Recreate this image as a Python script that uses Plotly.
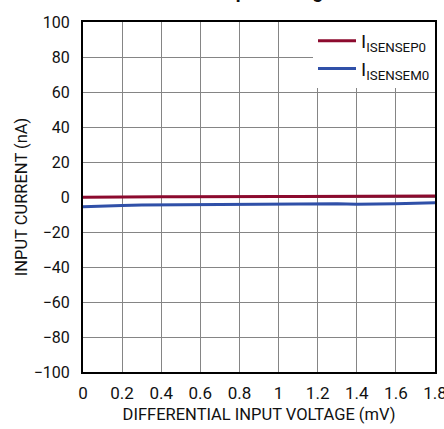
import plotly.graph_objects as go

x_vals = [0, 0.1, 0.2, 0.3, 0.4, 0.5, 0.6, 0.7, 0.8, 0.9, 1.0, 1.1, 1.2, 1.3, 1.4, 1.5, 1.6, 1.7, 1.8]
i_sensep0 = [-0.2, 0.0, 0.1, 0.1, 0.2, 0.2, 0.3, 0.3, 0.3, 0.3, 0.3, 0.3, 0.4, 0.4, 0.5, 0.6, 0.6, 0.6, 0.6]
i_sensem0 = [-5.5, -5.0, -4.8, -4.6, -4.5, -4.4, -4.3, -4.3, -4.2, -4.2, -4.0, -3.9, -3.8, -3.9, -4.1, -4.2, -3.9, -3.6, -3.3]

x_ticks = [0, 0.2, 0.4, 0.6, 0.8, 1.0, 1.2, 1.4, 1.6, 1.8]
x_tick_labels = ["0", "0.2", "0.4", "0.6", "0.8", "1", "1.2", "1.4", "1.6", "1.8"]
y_ticks = [-100, -80, -60, -40, -20, 0, 20, 40, 60, 80, 100]
y_tick_labels = ["\u2212100", "\u221280", "\u221260", "\u221240", "\u221220", "0", "20", "40", "60", "80", "100"]

FONT = "Roboto, Arial, sans-serif"

fig = go.Figure()
fig.add_trace(go.Scatter(x=x_vals, y=i_sensep0, mode="lines", name="I<sub>ISENSEP0</sub>",
                         line=dict(color="#8c0a2e", width=3)))
fig.add_trace(go.Scatter(x=x_vals, y=i_sensem0, mode="lines", name="I<sub>ISENSEM0</sub>",
                         line=dict(color="#3050a8", width=3)))

fig.update_layout(
    width=444, height=429,
    margin=dict(l=83, r=9, t=22, b=57, autoexpand=False),
    paper_bgcolor="white", plot_bgcolor="white",
    font=dict(family=FONT, size=16, color="#111111"),
    showlegend=True,
    legend=dict(x=1, xanchor="right", y=1, yanchor="top", bgcolor="white",
                font=dict(size=19), borderwidth=0, tracegroupgap=0,
                itemwidth=38),
)
fig.update_xaxes(range=[0, 1.8], tickvals=x_ticks, ticktext=x_tick_labels,
                 showgrid=True, gridcolor="#858585", gridwidth=1.3,
                 showline=True, linecolor="black", linewidth=2, mirror=True,
                 ticks="", ticklabelstandoff=5, zeroline=False, automargin=False,
                 ticklabeloverflow="allow", tickfont=dict(size=17),
                 title=dict(text="DIFFERENTIAL INPUT VOLTAGE (mV)", font=dict(size=16.5), standoff=6))
fig.update_yaxes(range=[-100, 100], tickvals=y_ticks, ticktext=y_tick_labels,
                 showgrid=True, gridcolor="#858585", gridwidth=1.3,
                 showline=True, linecolor="black", linewidth=2, mirror=True,
                 ticks="", ticklabelstandoff=8, zeroline=False, automargin=False,
                 ticklabeloverflow="allow", tickfont=dict(size=16),
                 title=dict(text="INPUT CURRENT (nA)", font=dict(size=16.5), standoff=2))

fig.add_annotation(text="<b>Input Current vs Differential<br>Input Voltage</b>", xref="paper", yref="paper",
                   x=0.55, y=1, yshift=17, xanchor="center", yanchor="bottom",
                   showarrow=False, font=dict(size=19, family=FONT))

fig.write_html("out.html", config={"displayModeBar": False},
               post_script="document.body.style.margin='0';document.body.style.overflow='hidden';")
